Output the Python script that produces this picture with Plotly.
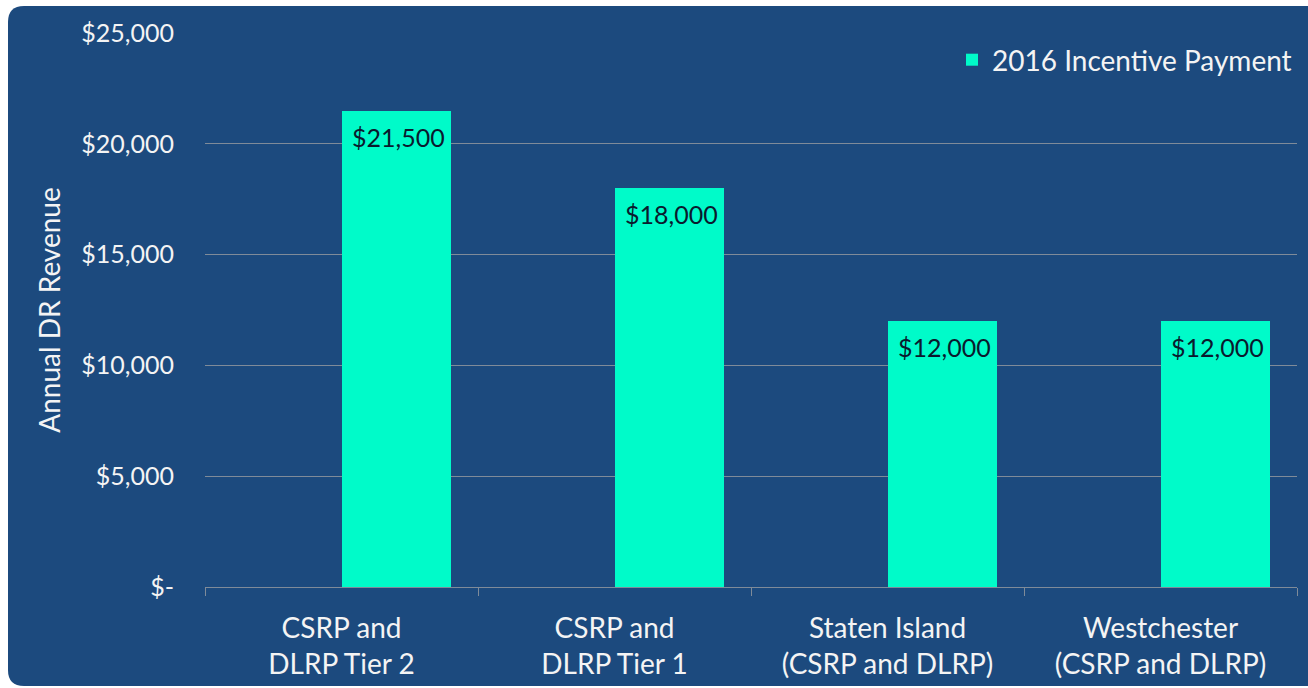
import plotly.graph_objects as go

categories = ["CSRP and<br>DLRP Tier 2", "CSRP and<br>DLRP Tier 1",
              "Staten Island<br>(CSRP and DLRP)", "Westchester<br>(CSRP and DLRP)"]
payments = [21500, 18000, 12000, 12000]
bar_labels = ["$21,500", "$18,000", "$12,000", "$12,000"]
series_name = "2016 Incentive Payment"
y_tickvals = [0, 5000, 10000, 15000, 20000, 25000]
y_ticktext = ["$-", "$5,000", "$10,000", "$15,000", "$20,000", "$25,000"]

W, H = 1308, 688
L, R, T, B = 205, 11, 33, 101
PW, PH = W - L - R, H - T - B

def px_x(p):
    return (p - L) / PW

def px_y(p):
    return (H - B - p) / PH

BG = "#1c4a7e"
BAR = "#00fbc9"
GRID = "#7f8b99"
FONT = "Lato"
TXT = "#f4f4f4"
BAR_W = 0.4

fig = go.Figure()
fig.add_trace(go.Bar(
    x=categories, y=payments, name=series_name,
    marker=dict(color=BAR, line=dict(width=0)),
    offset=0, width=BAR_W,
    showlegend=True,
))

# data labels just below each bar top
slot_px = PW / len(categories)
for c, v, t in zip(categories, payments, bar_labels):
    fig.add_annotation(x=c, y=v, text=t, showarrow=False,
                       xshift=slot_px * BAR_W / 2 + 2, yshift=-26,
                       font=dict(size=25, color="#0a1a2e", family=FONT))

# rounded background panel
x0, x1, y0, y1 = 8, 1330, 6, 686
r = 16
rx, ry = r / PW, r / PH
X0, X1, Y0, Y1 = px_x(x0), px_x(x1), px_y(y1), px_y(y0)
path = (f"M {X0+rx},{Y1} L {X1-rx},{Y1} Q {X1},{Y1} {X1},{Y1-ry} "
        f"L {X1},{Y0+ry} Q {X1},{Y0} {X1-rx},{Y0} L {X0+rx},{Y0} "
        f"Q {X0},{Y0} {X0},{Y0+ry} L {X0},{Y1-ry} Q {X0},{Y1} {X0+rx},{Y1} Z")

fig.update_layout(
    width=W, height=H,
    margin=dict(l=L, r=R, t=T, b=B, autoexpand=False),
    paper_bgcolor="white",
    plot_bgcolor="rgba(0,0,0,0)",
    font=dict(family=FONT, color=TXT, size=20),
    shapes=[dict(type="path", path=path, xref="paper", yref="paper",
                 fillcolor=BG, line=dict(width=0), layer="below")],
    legend=dict(x=1.0, y=px_y(60), xanchor="right", yanchor="middle",
                font=dict(size=28, color=TXT, family=FONT),
                bgcolor="rgba(0,0,0,0)", itemwidth=30),
    bargap=0,
    xaxis=dict(
        showgrid=False, showline=True, linecolor=GRID, linewidth=1,
        ticks="outside", tickson="boundaries", ticklen=8, tickcolor=GRID,
        ticklabelstandoff=16,
        tickfont=dict(size=28, color=TXT, family=FONT),
        automargin=False,
    ),
    yaxis=dict(
        range=[0, 25000], tickvals=y_tickvals, ticktext=y_ticktext,
        showgrid=True, gridcolor=GRID, gridwidth=1, zeroline=False,
        showline=False, ticks="", ticklabelstandoff=30,
        tickfont=dict(size=25, color=TXT, family=FONT),
        title=dict(text="Annual DR Revenue", standoff=12,
                   font=dict(size=28, color=TXT, family=FONT)),
        automargin=False,
    ),
)

fig.write_html("out.html", config={"displayModeBar": False},
               post_script="document.body.style.margin='0px';")
